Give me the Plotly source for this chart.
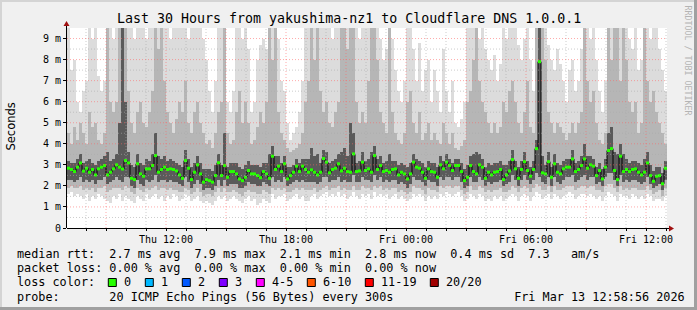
import plotly.graph_objects as go
import pandas as pd

W, H = 697, 310
TITLE = "Last 30 Hours from yakushima-nz1 to Cloudflare DNS 1.0.0.1"
START = "2026-03-12 07:03:00"
END = "2026-03-13 13:03:00"
STEP_MIN = 9
Y_MAX = 9.5

# median rtt per step (ms)
MED = [
    2.84, 2.78, 2.68, 2.89, 3.09, 2.70, 2.84, 2.65, 2.78, 2.52, 2.81, 2.89, 2.97, 2.52, 2.65, 2.81, 3.00, 2.89, 2.80, 3.20,
    3.09, 2.36, 2.30, 3.05, 2.57, 2.46, 2.81, 2.81, 2.97, 3.44, 2.65, 2.78, 2.89, 2.78, 2.81, 2.78, 2.71, 2.52, 2.36, 3.20,
    2.84, 2.30, 2.65, 3.00, 2.57, 2.18, 2.30, 2.25, 2.18, 2.49, 3.10, 2.49, 2.97, 2.41, 2.68, 2.68, 2.57, 2.33, 2.25, 2.41,
    2.73, 2.57, 2.57, 2.49, 2.39, 2.68, 2.57, 2.36, 3.41, 2.78, 2.94, 2.68, 3.05, 2.33, 2.49, 2.65, 2.94, 2.68, 2.94, 2.78,
    2.65, 2.76, 2.65, 2.52, 2.65, 3.30, 3.13, 2.62, 2.78, 2.84, 3.05, 2.71, 2.84, 2.68, 2.65, 3.52, 2.68, 2.71, 3.13, 2.73,
    2.81, 2.65, 3.44, 2.78, 2.97, 2.68, 2.73, 2.65, 2.78, 2.81, 2.52, 2.65, 2.57, 2.33, 2.57, 3.13, 2.89, 2.84, 2.65, 2.36,
    2.81, 2.68, 2.65, 2.41, 3.00, 2.81, 3.13, 2.97, 2.73, 2.97, 2.97, 2.68, 2.25, 2.41, 2.97, 2.68, 2.57, 3.00, 2.89, 2.36,
    2.65, 2.52, 2.65, 2.68, 2.78, 2.30, 2.52, 2.71, 3.25, 2.81, 2.36, 2.78, 3.15, 2.73, 2.46, 2.78, 3.77, 7.90, 2.62, 2.57,
    3.15, 2.41, 3.05, 2.65, 2.57, 2.81, 2.89, 2.89, 3.28, 2.68, 2.78, 2.97, 3.28, 2.84, 3.00, 2.94, 2.49, 2.73, 2.33, 2.89,
    3.68, 3.77, 2.73, 2.30, 3.41, 2.68, 2.78, 2.68, 2.78, 2.81, 2.65, 2.52, 2.65, 3.09, 2.49, 2.22, 2.46, 2.49, 2.10, 2.84,
]
# smoke: lowest ping
LO = [
    1.6, 1.7, 1.5, 1.6, 1.5, 1.4, 1.6, 1.3, 1.5, 1.4, 1.6, 1.5, 1.4, 1.3, 1.2, 1.5, 1.4, 1.6, 1.3, 1.5,
    1.4, 1.3, 1.2, 1.5, 1.4, 1.3, 1.6, 1.4, 1.5, 1.6, 1.4, 1.5, 1.3, 1.5, 1.4, 1.6, 1.5, 1.3, 1.4, 1.6,
    1.5, 1.3, 1.4, 1.5, 1.3, 1.2, 1.3, 1.2, 1.1, 1.3, 1.5, 1.4, 1.5, 1.3, 1.4, 1.5, 1.4, 1.3, 1.2, 1.4,
    1.5, 1.3, 1.4, 1.1, 1.2, 1.4, 1.3, 1.2, 1.6, 1.4, 1.5, 1.5, 1.6, 1.3, 1.4, 1.5, 1.6, 1.4, 1.5, 1.3,
    1.3, 1.5, 1.6, 1.4, 1.5, 1.6, 1.7, 1.5, 1.6, 1.5, 1.7, 1.5, 1.6, 1.4, 1.5, 1.7, 1.5, 1.4, 1.6, 1.5,
    1.6, 1.4, 1.7, 1.5, 1.6, 1.5, 1.6, 1.4, 1.5, 1.6, 1.4, 1.5, 1.4, 1.3, 1.4, 1.6, 1.5, 1.6, 1.5, 1.3,
    1.5, 1.4, 1.5, 1.4, 1.6, 1.5, 1.7, 1.6, 1.5, 1.6, 1.7, 1.5, 1.3, 1.4, 1.6, 1.5, 1.4, 1.6, 1.5, 1.3,
    1.4, 1.3, 1.5, 1.4, 1.5, 1.3, 1.4, 1.5, 1.6, 1.5, 1.3, 1.5, 1.6, 1.5, 1.3, 1.5, 1.7, 1.6, 1.4, 1.5,
    1.6, 1.4, 1.6, 1.5, 1.4, 1.5, 1.6, 1.7, 1.6, 1.4, 1.5, 1.6, 1.6, 1.5, 1.6, 1.5, 1.4, 1.5, 1.3, 1.5,
    1.7, 1.6, 1.5, 1.3, 1.6, 1.5, 1.5, 1.4, 1.6, 1.5, 1.4, 1.5, 1.4, 1.6, 1.5, 1.3, 1.4, 1.4, 1.3, 1.5,
]
P10 = [
    1.9, 2.0, 1.9, 1.9, 2.0, 1.8, 1.9, 1.8, 1.9, 1.7, 1.9, 1.9, 2.0, 1.7, 1.8, 1.9, 1.9, 1.9, 1.8, 2.0,
    1.9, 1.7, 1.6, 1.9, 1.8, 1.7, 1.9, 1.8, 1.9, 2.0, 1.8, 1.9, 1.9, 1.8, 1.9, 1.8, 1.8, 1.7, 1.7, 1.9,
    1.8, 1.6, 1.7, 1.9, 1.7, 1.5, 1.6, 1.6, 1.5, 1.7, 1.9, 1.7, 1.9, 1.7, 1.7, 1.8, 1.7, 1.6, 1.5, 1.7,
    1.8, 1.7, 1.7, 1.6, 1.6, 1.8, 1.7, 1.6, 1.9, 1.8, 1.9, 1.8, 1.9, 1.7, 1.7, 1.8, 1.9, 1.8, 1.9, 1.8,
    1.8, 1.8, 1.9, 1.7, 1.8, 1.9, 2.0, 1.8, 1.9, 1.9, 2.0, 1.8, 1.9, 1.8, 1.8, 2.0, 1.8, 1.8, 2.0, 1.9,
    1.9, 1.8, 2.0, 1.9, 2.0, 1.8, 1.9, 1.8, 1.9, 1.9, 1.7, 1.8, 1.7, 1.6, 1.7, 2.0, 1.9, 1.9, 1.8, 1.6,
    1.9, 1.8, 1.8, 1.7, 2.0, 1.9, 2.0, 2.0, 1.9, 2.0, 2.0, 1.8, 1.6, 1.7, 2.0, 1.8, 1.8, 2.0, 1.9, 1.7,
    1.8, 1.7, 1.8, 1.8, 1.9, 1.7, 1.7, 1.8, 2.0, 1.9, 1.7, 1.9, 2.0, 1.9, 1.7, 1.9, 2.1, 2.0, 1.8, 1.8,
    2.0, 1.7, 2.0, 1.8, 1.8, 1.9, 2.0, 2.0, 2.0, 1.8, 1.9, 2.0, 2.0, 1.9, 2.0, 2.0, 1.8, 1.8, 1.7, 2.0,
    2.1, 2.1, 1.9, 1.7, 2.0, 1.8, 1.9, 1.8, 1.9, 1.9, 1.8, 1.8, 1.8, 2.0, 1.8, 1.6, 1.7, 1.8, 1.5, 1.9,
]
P25 = [
    2.3, 2.3, 2.2, 2.3, 2.4, 2.2, 2.3, 2.2, 2.3, 2.1, 2.3, 2.3, 2.4, 2.1, 2.2, 2.3, 2.4, 2.3, 2.2, 2.4,
    2.4, 2.0, 1.9, 2.3, 2.1, 2.0, 2.3, 2.2, 2.3, 2.5, 2.2, 2.3, 2.3, 2.2, 2.3, 2.2, 2.2, 2.1, 2.0, 2.4,
    2.2, 1.9, 2.1, 2.3, 2.1, 1.8, 1.9, 1.9, 1.8, 2.0, 2.3, 2.0, 2.3, 2.0, 2.1, 2.1, 2.1, 1.9, 1.9, 2.0,
    2.2, 2.1, 2.1, 2.0, 2.0, 2.2, 2.1, 2.0, 2.4, 2.2, 2.3, 2.2, 2.4, 2.0, 2.1, 2.2, 2.3, 2.2, 2.3, 2.2,
    2.2, 2.2, 2.2, 2.1, 2.2, 2.4, 2.4, 2.2, 2.3, 2.3, 2.4, 2.2, 2.3, 2.2, 2.2, 2.5, 2.2, 2.2, 2.4, 2.3,
    2.3, 2.2, 2.5, 2.3, 2.4, 2.2, 2.3, 2.2, 2.3, 2.3, 2.1, 2.2, 2.1, 1.9, 2.1, 2.4, 2.3, 2.3, 2.2, 2.0,
    2.3, 2.2, 2.2, 2.0, 2.4, 2.3, 2.4, 2.4, 2.3, 2.4, 2.4, 2.2, 1.9, 2.0, 2.4, 2.2, 2.2, 2.4, 2.3, 2.0,
    2.2, 2.1, 2.2, 2.2, 2.3, 2.0, 2.1, 2.2, 2.5, 2.3, 2.0, 2.3, 2.5, 2.3, 2.1, 2.3, 2.6, 2.4, 2.2, 2.1,
    2.4, 2.0, 2.4, 2.2, 2.1, 2.3, 2.4, 2.4, 2.5, 2.2, 2.3, 2.4, 2.5, 2.3, 2.4, 2.4, 2.1, 2.2, 2.0, 2.4,
    2.6, 2.6, 2.3, 2.0, 2.5, 2.2, 2.3, 2.2, 2.3, 2.3, 2.2, 2.1, 2.2, 2.4, 2.1, 1.9, 2.0, 2.1, 1.8, 2.3,
]
P75 = [
    3.2, 3.1, 3.1, 3.3, 3.5, 3.1, 3.2, 3.3, 3.1, 3.0, 3.2, 3.3, 3.4, 3.6, 3.2, 3.3, 3.5, 5.0, 9.5, 6.0,
    3.6, 3.0, 2.9, 3.5, 3.1, 3.0, 3.3, 3.2, 3.5, 4.5, 3.4, 3.3, 3.4, 3.2, 3.3, 3.2, 3.1, 3.0, 2.9, 3.7,
    3.3, 2.9, 3.1, 3.4, 3.1, 2.8, 2.8, 2.8, 2.7, 3.0, 3.5, 3.0, 4.5, 2.9, 3.1, 3.1, 3.1, 2.9, 2.8, 3.0,
    3.2, 3.0, 3.0, 3.0, 2.9, 3.1, 3.1, 3.5, 3.9, 3.4, 3.4, 3.1, 3.4, 2.9, 2.9, 3.0, 3.3, 3.1, 3.3, 3.3,
    3.3, 3.8, 3.4, 3.5, 3.1, 3.7, 3.6, 3.1, 3.2, 3.3, 3.5, 3.6, 3.8, 3.4, 5.0, 4.5, 3.1, 3.2, 3.6, 3.2,
    3.3, 3.6, 3.9, 3.3, 3.4, 3.1, 3.2, 3.5, 3.2, 3.2, 3.0, 3.1, 3.0, 2.9, 3.1, 3.5, 3.3, 3.2, 3.1, 2.9,
    3.2, 3.1, 3.1, 2.9, 3.4, 3.2, 3.5, 3.3, 3.1, 3.3, 3.3, 3.1, 2.8, 3.0, 3.4, 3.5, 3.6, 3.5, 3.3, 2.9,
    3.1, 3.0, 3.1, 3.1, 3.2, 3.0, 3.0, 3.2, 3.7, 3.2, 2.9, 3.2, 3.6, 3.2, 2.9, 3.2, 4.2, 9.5, 3.4, 3.0,
    3.6, 2.9, 3.5, 3.1, 3.0, 3.2, 3.3, 3.3, 3.7, 3.1, 3.2, 3.4, 4.0, 3.4, 3.4, 3.3, 2.9, 3.1, 2.8, 3.3,
    4.5, 4.8, 3.6, 3.5, 4.0, 3.5, 3.3, 3.1, 3.2, 3.2, 3.1, 3.0, 3.3, 3.6, 3.0, 2.7, 2.9, 2.9, 2.6, 3.2,
]
P90 = [
    4.5, 4.0, 4.8, 4.2, 5.0, 4.5, 4.0, 5.5, 4.8, 5.0, 4.2, 4.0, 4.5, 9.5, 6.0, 5.5, 6.0, 9.5, 9.5, 9.5,
    6.5, 5.0, 4.5, 5.5, 6.0, 5.0, 4.8, 5.5, 6.5, 9.5, 8.5, 9.5, 7.0, 5.5, 5.0, 4.5, 5.2, 6.0, 5.5, 7.0,
    5.0, 4.5, 5.5, 6.0, 5.0, 4.5, 4.0, 4.2, 3.8, 4.5, 5.5, 6.0, 9.5, 4.5, 4.0, 4.2, 5.5, 6.5, 5.0, 6.0,
    5.0, 4.0, 4.2, 4.8, 5.5, 5.0, 6.0, 9.5, 8.0, 9.5, 5.5, 4.5, 4.2, 3.8, 3.6, 3.7, 3.8, 4.0, 4.5, 6.0,
    7.0, 9.5, 8.0, 9.5, 6.5, 5.5, 6.0, 5.0, 4.8, 5.5, 6.0, 9.5, 9.5, 8.5, 9.5, 9.5, 6.0, 5.0, 5.5, 5.0,
    7.0, 9.5, 9.5, 8.0, 5.5, 5.0, 4.5, 9.5, 5.5, 4.5, 4.2, 4.0, 4.5, 6.0, 6.5, 5.0, 4.5, 5.5, 4.2, 4.5,
    5.0, 4.2, 4.5, 4.2, 4.0, 5.0, 4.5, 4.0, 4.5, 3.8, 3.7, 3.9, 4.2, 6.0, 6.5, 8.0, 9.5, 7.0, 6.0, 5.5,
    5.0, 4.5, 5.0, 4.5, 4.8, 6.0, 5.5, 6.5, 7.0, 6.0, 5.0, 4.5, 5.5, 7.0, 4.8, 4.5, 9.5, 9.5, 9.5, 8.0,
    5.5, 5.0, 4.5, 5.0, 4.8, 4.5, 4.2, 4.5, 5.0, 4.5, 5.0, 5.5, 9.5, 7.0, 6.0, 6.5, 5.0, 4.2, 4.0, 4.5,
    9.5, 8.0, 9.5, 9.5, 7.0, 9.5, 8.0, 6.0, 5.5, 6.0, 4.5, 5.0, 9.5, 7.0, 6.0, 6.5, 5.5, 5.0, 4.5, 4.0,
]
# highest ping (9.5 = beyond top of graph)
HI = [
    9.5, 7.5, 8.0, 6.0, 5.5, 6.5, 7.0, 9.5, 9.0, 9.5, 7.2, 6.5, 7.0, 9.5, 9.5, 9.0, 9.5, 9.5, 9.5, 9.5,
    9.5, 9.5, 9.0, 9.5, 9.5, 9.5, 9.0, 9.5, 9.5, 9.5, 9.5, 9.5, 9.5, 9.5, 9.0, 9.5, 9.5, 9.5, 9.5, 9.5,
    9.0, 9.5, 9.5, 9.5, 9.5, 9.0, 8.0, 6.5, 5.5, 7.0, 9.5, 9.5, 9.5, 6.0, 5.5, 6.5, 9.5, 9.5, 9.0, 9.5,
    8.5, 5.5, 6.0, 8.0, 8.7, 9.0, 8.5, 9.5, 9.5, 9.5, 9.0, 7.0, 6.5, 5.0, 4.2, 4.5, 4.8, 5.5, 7.0, 9.5,
    9.5, 9.5, 9.5, 9.5, 9.5, 9.5, 9.5, 9.5, 9.0, 9.5, 9.5, 9.5, 9.5, 9.5, 9.5, 9.5, 9.5, 9.0, 9.5, 9.5,
    9.5, 9.5, 9.5, 9.5, 9.0, 8.0, 8.5, 9.5, 9.0, 7.5, 6.5, 6.0, 7.0, 9.5, 9.5, 8.5, 7.0, 8.8, 6.5, 7.5,
    8.0, 6.0, 7.5, 6.5, 5.5, 8.5, 6.5, 5.5, 7.0, 5.0, 4.8, 5.2, 6.0, 9.5, 9.5, 9.5, 9.5, 9.0, 9.5, 8.5,
    8.0, 7.5, 8.2, 7.0, 7.8, 9.5, 9.0, 9.5, 9.5, 9.5, 8.7, 8.0, 9.0, 9.5, 8.0, 6.5, 9.5, 9.5, 9.5, 9.5,
    8.7, 8.0, 7.5, 8.5, 7.8, 7.0, 6.0, 7.5, 8.0, 6.5, 7.0, 8.5, 9.5, 9.5, 9.0, 9.5, 8.0, 6.5, 5.5, 7.0,
    9.5, 9.5, 9.5, 9.5, 9.5, 9.5, 9.5, 9.0, 8.5, 9.5, 7.5, 8.0, 9.5, 9.5, 9.0, 9.5, 9.5, 8.5, 7.5, 6.5,
]

X_TICK_TIMES = ["2026-03-12 12:00", "2026-03-12 18:00", "2026-03-13 00:00",
                "2026-03-13 06:00", "2026-03-13 12:00"]
X_TICK_TEXT = ["Thu 12:00", "Thu 18:00", "Fri 00:00", "Fri 06:00", "Fri 12:00"]
Y_TICK_VALS = [0, 1, 2, 3, 4, 5, 6, 7, 8, 9]
Y_TICK_TEXT = ["0", "1 m", "2 m", "3 m", "4 m", "5 m", "6 m", "7 m", "8 m", "9 m"]

LEGEND_LINES = [
    "median rtt:  2.7 ms avg  7.9 ms max  2.1 ms min  2.8 ms now  0.4 ms sd  7.3   am/s",
    "packet loss: 0.00 % avg  0.00 % max  0.00 % min  0.00 % now",
    "loss color:",
    "probe:       20 ICMP Echo Pings (56 Bytes) every 300s                 Fri Mar 13 12:58:56 2026",
]
LOSS_LABELS = ["0", "1", "2", "3", "4-5", "6-10", "11-19", "20/20"]
LOSS_COLORS = ["#26ff00", "#00b8ff", "#0059ff", "#7e00ff", "#ff00ff", "#ff5500", "#ff0000", "#a10000"]

SMOKE_COLORS = ["#dcdcdc", "#b6b6b6", "#5a5a5a"]
MONO = "DejaVu Sans Mono"

# ---------- layout geometry (pixels) ----------
PL, PR, PT, PB = 67, 667, 28, 228


def px(x):
    return x / W


def py(y):
    return 1 - y / H


t0 = pd.Timestamp(START)
n = len(MED)
times = [(t0 + pd.Timedelta(minutes=STEP_MIN * (i + 0.5))).strftime("%Y-%m-%d %H:%M:%S") for i in range(n)]
bw = STEP_MIN * 60 * 1000

fig = go.Figure()
for (lo, hi), col in zip([(LO, HI), (P10, P90), (P25, P75)], SMOKE_COLORS):
    fig.add_trace(go.Bar(
        x=times, y=[h - l for l, h in zip(lo, hi)], base=lo, width=bw,
        marker=dict(color=col, line=dict(width=0)), hoverinfo="skip", showlegend=False))

fig.add_trace(go.Scatter(x=times, y=MED, mode="lines", line=dict(color="#000000", width=1, shape="hvh"),
                         hoverinfo="skip", showlegend=False))
fig.add_trace(go.Scatter(x=times, y=MED, mode="markers",
                         marker=dict(symbol="square", size=3, color=LOSS_COLORS[0], line=dict(width=0)),
                         hoverinfo="skip", showlegend=False))

shapes = []
GRID_MAJOR = "rgba(255,100,100,0.55)"
GRID_MINOR = "rgba(170,170,170,0.6)"
for h in pd.date_range("2026-03-12 08:00", "2026-03-13 13:00", freq="h"):
    col = GRID_MAJOR if h.hour % 3 == 0 else GRID_MINOR
    hs = h.strftime("%Y-%m-%d %H:%M:%S")
    shapes.append(dict(type="line", xref="x", yref="y", x0=hs, x1=hs, y0=0, y1=Y_MAX,
                       line=dict(color=col, width=1, dash="1px,2px"), layer="above"))
for k in range(1, 19):
    v = k * 0.5
    col = GRID_MAJOR if k % 2 == 0 else GRID_MINOR
    shapes.append(dict(type="line", xref="x", yref="y", x0=START, x1=END, y0=v, y1=v,
                       line=dict(color=col, width=1, dash="1px,2px"), layer="above"))

# axes lines and arrows
shapes.append(dict(type="line", xref="paper", yref="paper", x0=px(PL), x1=px(671), y0=py(PB + 0.5), y1=py(PB + 0.5),
                   line=dict(color="#000000", width=1), layer="above"))
shapes.append(dict(type="line", xref="paper", yref="paper", x0=px(PL - 0.5), x1=px(PL - 0.5), y0=py(PB), y1=py(24),
                   line=dict(color="#000000", width=1), layer="above"))
shapes.append(dict(type="path", xref="paper", yref="paper",
                   path=f"M {px(669)} {py(PB - 2.5)} L {px(674)} {py(PB + 0.5)} L {px(669)} {py(PB + 3.5)} Z",
                   fillcolor="#a01010", line=dict(width=0), layer="above"))
shapes.append(dict(type="path", xref="paper", yref="paper",
                   path=f"M {px(PL - 3.5)} {py(26)} L {px(PL - 0.5)} {py(21)} L {px(PL + 2.5)} {py(26)} Z",
                   fillcolor="#a01010", line=dict(width=0), layer="above"))

# frame (3d border)
shapes.append(dict(type="rect", xref="paper", yref="paper", x0=0, x1=1, y0=py(2), y1=1,
                   fillcolor="#d4d4d4", line=dict(width=0), layer="below"))
shapes.append(dict(type="rect", xref="paper", yref="paper", x0=0, x1=px(2), y0=0, y1=1,
                   fillcolor="#d4d4d4", line=dict(width=0), layer="below"))
shapes.append(dict(type="rect", xref="paper", yref="paper", x0=0, x1=1, y0=0, y1=py(H - 3),
                   fillcolor="#a0a0a0", line=dict(width=0), layer="below"))
shapes.append(dict(type="rect", xref="paper", yref="paper", x0=px(W - 3), x1=1, y0=0, y1=1,
                   fillcolor="#a0a0a0", line=dict(width=0), layer="below"))

annotations = []
annotations.append(dict(text=TITLE, xref="paper", yref="paper", x=px(348.5), y=py(18.5), showarrow=False,
                        xanchor="center", yanchor="middle", font=dict(family=MONO, size=13.3, color="#000000")))
annotations.append(dict(text="Seconds", xref="paper", yref="paper", x=px(10.5), y=py(127), showarrow=False,
                        textangle=-90, xanchor="center", yanchor="middle",
                        font=dict(family="DejaVu Sans", size=11.5, color="#000000")))
annotations.append(dict(text="RRDTOOL / TOBI OETIKER", xref="paper", yref="paper", x=px(687.5), y=py(60),
                        showarrow=False, textangle=90, xanchor="center", yanchor="middle",
                        font=dict(family=MONO, size=8.3, color="#b4b4b4")))

LINE_Y = [254.3, 268.3, 282.3, 296.5]
for txt, yy in zip(LEGEND_LINES, LINE_Y):
    annotations.append(dict(text=txt.replace(" ", "\u00a0"), xref="paper", yref="paper", x=px(15.5), y=py(yy),
                            showarrow=False, xanchor="left", yanchor="middle", borderpad=0,
                            font=dict(family=MONO, size=11.8, color="#000000")))

sx = 108.3
for lab, col in zip(LOSS_LABELS, LOSS_COLORS):
    shapes.append(dict(type="rect", xref="paper", yref="paper", x0=px(sx), x1=px(sx + 8), y0=py(286.5), y1=py(278.5),
                       fillcolor=col, line=dict(color="#000000", width=1), layer="above"))
    lx = sx + 15
    annotations.append(dict(text=lab, xref="paper", yref="paper", x=px(lx - 0.5), y=py(282.3), showarrow=False,
                            xanchor="left", yanchor="middle", borderpad=0,
                            font=dict(family=MONO, size=11.8, color="#000000")))
    sx = lx + 7.0 * len(lab) + 15.0

fig.update_layout(
    width=W, height=H, autosize=False,
    margin=dict(l=0, r=0, t=0, b=0, pad=0),
    paper_bgcolor="#f0f0f0", plot_bgcolor="#ffffff",
    barmode="overlay", bargap=0, showlegend=False,
    shapes=shapes, annotations=annotations,
    xaxis=dict(type="date", range=[START, END], domain=[px(PL), px(PR)], showgrid=False, zeroline=False,
               showline=False, tickmode="array", tickvals=X_TICK_TIMES, ticktext=X_TICK_TEXT,
               ticks="outside", ticklen=2, tickcolor="#000000", automargin=False, fixedrange=True,
               tickfont=dict(family=MONO, size=10, color="#000000"),
               minor=dict(ticks="outside", ticklen=2, dtick=3600000, tick0="2026-03-12 00:00",
                          tickcolor="#000000", showgrid=False)),
    yaxis=dict(range=[0, Y_MAX], domain=[py(PB), py(PT)], showgrid=False, zeroline=False, showline=False,
               tickmode="array", tickvals=Y_TICK_VALS, ticktext=Y_TICK_TEXT, ticks="outside", ticklen=3,
               tickcolor="#000000", automargin=False, fixedrange=True,
               tickfont=dict(family=MONO, size=10, color="#000000")),
)

fig.write_html("out.html", include_plotlyjs=True, config={"displayModeBar": False, "staticPlot": True})
